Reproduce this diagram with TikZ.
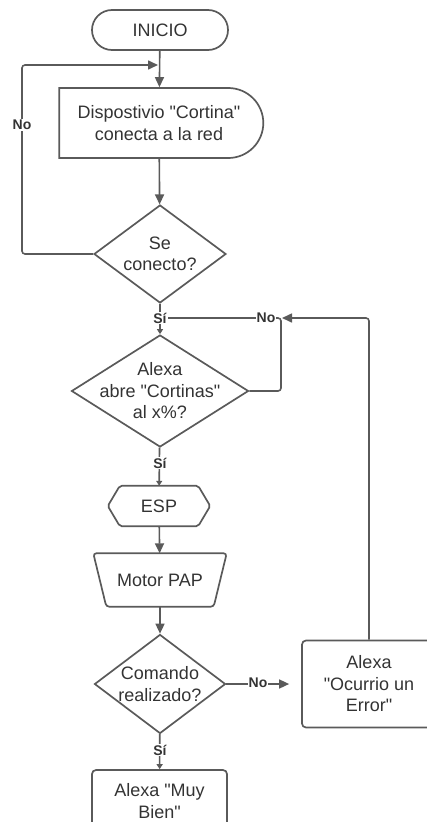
\documentclass[tikz,border=0pt]{standalone}
\usepackage{fontspec}
\newfontfamily\arialf{Liberation Sans}
\usetikzlibrary{shapes.misc,shapes.geometric,arrows.meta}
\definecolor{ln}{HTML}{5A5A5A}
\definecolor{tx}{HTML}{333333}
\tikzset{
  txt/.style={text=tx, font=\arialf\fontsize{18}{21.5}\selectfont, align=center},
  shp/.style={draw=ln, line width=1.7pt, txt, inner sep=0pt},
  ghost/.style={draw=none, txt, inner sep=0pt},
  dia/.style={shp, diamond},
  flow/.style={draw=ln, line width=1.6pt, rounded corners=3pt, -{Triangle[length=10pt,width=9pt]}},
  sflow/.style={draw=ln, line width=1.6pt, -{Triangle[length=5pt,width=6pt]}},
  line/.style={draw=ln, line width=1.6pt, rounded corners=3pt},
  lbl/.style={fill=white, text=tx, font=\arialf\bfseries\fontsize{14}{15}\selectfont, inner sep=1pt},
}
\begin{document}
\begin{tikzpicture}[x=1pt,y=-1pt]
\useasboundingbox (0,0) rectangle (427,822);
\clip (0,0) rectangle (427,822);
% nodes
\node[shp, rounded rectangle, minimum width=136pt, minimum height=40pt] (start) at (160,30) {INICIO};
\node[shp, rounded rectangle, rounded rectangle left arc=none, minimum width=204pt, minimum height=70pt] (conn) at (159,123) {Dispostivio "Cortina"\\conecta a la red};
\node[dia, minimum width=132pt, minimum height=98pt, label={[txt]center:Se\\conecto?}] (d1) at (160,254) {};
\node[dia, minimum width=177pt, minimum height=112pt, label={[txt]center:Alexa\\abre "Cortinas"\\al x\%?}] (d2) at (160,391) {};
\node[ghost, minimum width=102pt, minimum height=40pt] (esp) at (159,506) {ESP};
\draw[draw=ln, line width=1.7pt, rounded corners=2pt]
  (esp.west) -- ([xshift=12pt]esp.north west) -- ([xshift=-12pt]esp.north east)
  -- (esp.east) -- ([xshift=-12pt]esp.south east) -- ([xshift=12pt]esp.south west) -- cycle;
\node[ghost, minimum width=133pt, minimum height=53pt] (motor) at (160,580) {Motor PAP};
\draw[draw=ln, line width=1.7pt, rounded corners=3pt]
  (motor.north west) -- (motor.north east) -- ([xshift=-13pt]motor.south east)
  -- ([xshift=13pt]motor.south west) -- cycle;
\node[dia, minimum width=131pt, minimum height=99pt, label={[txt]center:Comando\\realizado?}] (d3) at (160,684) {};
\node[shp, rectangle, rounded corners=4pt, minimum width=134pt, minimum height=87pt] (err) at (369,684) {Alexa\\"Ocurrio un\\Error"};
\node[shp, rectangle, rounded corners=4pt, minimum width=135pt, minimum height=62pt] (fin) at (159.5,801) {Alexa "Muy\\Bien"};
% junctions
\coordinate (j1) at (160,65);
\coordinate (j2) at (281,318);
% connectors
\draw[flow] (start) -- (conn);
\draw[flow] (d1.west) -- (22,254) -- (22,65) -- ([xshift=-2pt]j1);
\draw[flow] (conn) -- (d1);
\draw[sflow] (d1) -- (d2);
\draw[line] (d2.east) -- (281,391) -- (j2) -- (160,318);
\draw[flow] (err.north) -- (369,318) -- ([xshift=1pt]j2);
\draw[sflow] (d2) -- (esp);
\draw[flow] (esp) -- (motor);
\draw[flow] (motor) -- (d3);
\draw[flow, shorten >=12pt] (d3.east) -- (err.west);
\draw[sflow] (d3) -- (fin);
% labels
\node[lbl] (lno1) at (22,125) {No};
\node[lbl] (lsi1) at (160,318) {Sí};
\node[lbl] (lno2) at (266,318) {No};
\node[lbl] (lsi2) at (160,463) {Sí};
\node[lbl] (lno3) at (258,683) {No};
\node[lbl] (lsi3) at (160,750) {Sí};
\end{tikzpicture}
\end{document}
